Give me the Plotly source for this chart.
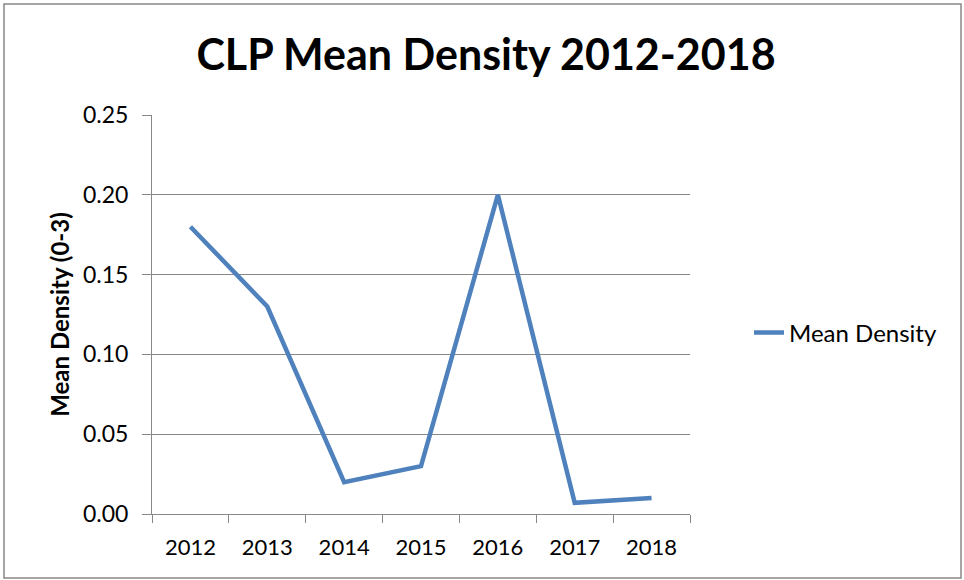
import plotly.graph_objects as go

years = ["2012", "2013", "2014", "2015", "2016", "2017", "2018"]
mean_density = [0.18, 0.13, 0.02, 0.03, 0.20, 0.007, 0.01]
y_ticks = [0.0, 0.05, 0.10, 0.15, 0.20, 0.25]
y_tick_text = ["0.00", "0.05", "0.10", "0.15", "0.20", "0.25"]

W, H = 964, 580
L, R, T, B = 152, 690, 115, 514
pw, ph = R - L, B - T

def px(x):
    return (x - L) / pw

def py(y):
    return (B - y) / ph

fig = go.Figure()
fig.add_trace(go.Scatter(
    x=years, y=mean_density, mode="lines", name="Mean Density",
    line=dict(color="#4F81BD", width=4.5),
))

font = "Lato, 'Open Sans', sans-serif"
fig.update_layout(
    width=W, height=H,
    margin=dict(l=L, r=W - R, t=T, b=H - B),
    paper_bgcolor="white", plot_bgcolor="white",
    font=dict(family=font, color="black", size=22),
    title=dict(text="<b>CLP Mean Density 2012-2018</b>", x=486 / W, xanchor="center",
               y=1 - 55 / H, yanchor="middle", font=dict(size=43, family=font)),
    xaxis=dict(type="category", tickson="boundaries", ticks="outside", ticklen=8,
               tickcolor="#888888", showline=True, linecolor="#888888", linewidth=1,
               showgrid=False, tickfont=dict(size=22), range=[-0.5, 6.5],
               ticklabelstandoff=14),
    yaxis=dict(range=[0, 0.25], tickvals=y_ticks, ticktext=y_tick_text,
               ticks="outside", ticklen=9, tickcolor="#888888", showline=True,
               linecolor="#888888", linewidth=1, showgrid=True, gridcolor="#888888",
               gridwidth=1, zeroline=False, tickfont=dict(size=23),
               ticklabelstandoff=9,
               title=dict(text="<b>Mean Density (0-3)</b>", font=dict(size=24), standoff=6)),
    legend=dict(x=px(749), y=py(333), xanchor="left", yanchor="middle",
                font=dict(size=24), bgcolor="rgba(0,0,0,0)"),
    showlegend=True,
    shapes=[dict(type="rect", xref="paper", yref="paper",
                 x0=px(4), x1=px(961), y0=py(578), y1=py(4),
                 line=dict(color="#888888", width=1.5), layer="below")],
)

fig.write_html("out.html", config={"displayModeBar": False},
               post_script="document.body.style.margin='0';document.body.style.padding='0';")
